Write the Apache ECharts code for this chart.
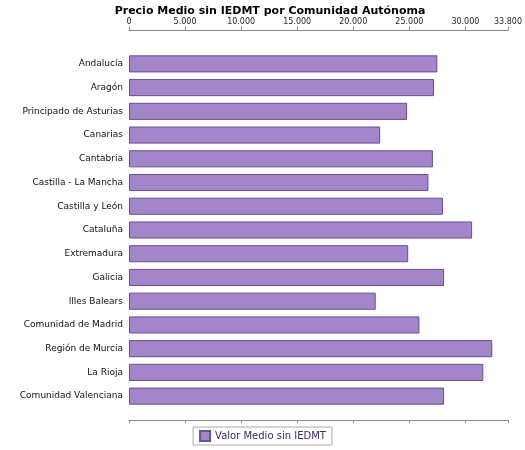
<!DOCTYPE html>
<html>
<head>
<meta charset="UTF-8" />
<style>
  body { margin: 0; background: #fff; }
  #chart { width: 525px; height: 450px; }
</style>
</head>
<body>
<div id="chart"></div>
<script src="https://cdn.jsdelivr.net/npm/echarts@6/dist/echarts.min.js"></script>
<script>
  const categories = ['Andalucía', 'Aragón', 'Principado de Asturias', 'Canarias', 'Cantabria',
    'Castilla - La Mancha', 'Castilla y León', 'Cataluña', 'Extremadura', 'Galicia',
    'Illes Balears', 'Comunidad de Madrid', 'Región de Murcia', 'La Rioja', 'Comunidad Valenciana'];
  const values = [27500, 27200, 24800, 22400, 27100, 26700, 28000, 30600, 24900, 28100,
    22000, 25900, 32400, 31600, 28100];
  // 5000 -> "5.000"
  const tickFmt = v => String(v).replace(/\B(?=(\d{3})+(?!\d))/g, '.');

  const chart = echarts.init(document.getElementById('chart'));
  chart.setOption({
    animation: false,
    title: {
      text: 'Precio Medio sin IEDMT por Comunidad Autónoma',
      left: 265, top: 1, textAlign: 'center',
      textStyle: { fontFamily: 'DejaVu Sans', fontSize: 11, fontWeight: 'bold', color: '#000' }
    },
    legend: {
      bottom: 5, left: 'center', icon: 'rect', itemWidth: 10, itemHeight: 10,
      padding: [3, 6], borderColor: '#aaa', borderWidth: 1, itemGap: 4,
      textStyle: { fontFamily: 'DejaVu Sans', fontSize: 10, color: '#3a2a6a' }
    },
    grid: { left: 129, right: 10, top: 52, bottom: 42 },
    xAxis: [{
      type: 'value', position: 'top', min: 0, max: 33800, interval: 5000, offset: 22,
      axisLine: { show: true, lineStyle: { color: '#888' } },
      axisTick: { show: true, length: 3, lineStyle: { color: '#888' } },
      splitLine: { show: false },
      axisLabel: { formatter: tickFmt, fontFamily: 'DejaVu Sans', fontSize: 8, color: '#222', margin: 4 }
    }, {
      type: 'value', position: 'bottom', min: 0, max: 33800, interval: 5000, offset: 12,
      axisLine: { show: true, lineStyle: { color: '#888' } },
      axisTick: { show: true, length: 3, lineStyle: { color: '#888' } },
      splitLine: { show: false },
      axisLabel: { show: false }
    }],
    yAxis: {
      type: 'category', data: categories, inverse: true,
      axisLine: { show: false },
      axisTick: { show: false },
      axisLabel: { fontFamily: 'DejaVu Sans', fontSize: 9, color: '#111', margin: 6 }
    },
    series: [{
      name: 'Valor Medio sin IEDMT', type: 'bar', data: values, barWidth: '72%',
      itemStyle: { color: '#a386c9', borderColor: '#6a4e8e', borderWidth: 1 }
    }]
  });
</script>
</body>
</html>
